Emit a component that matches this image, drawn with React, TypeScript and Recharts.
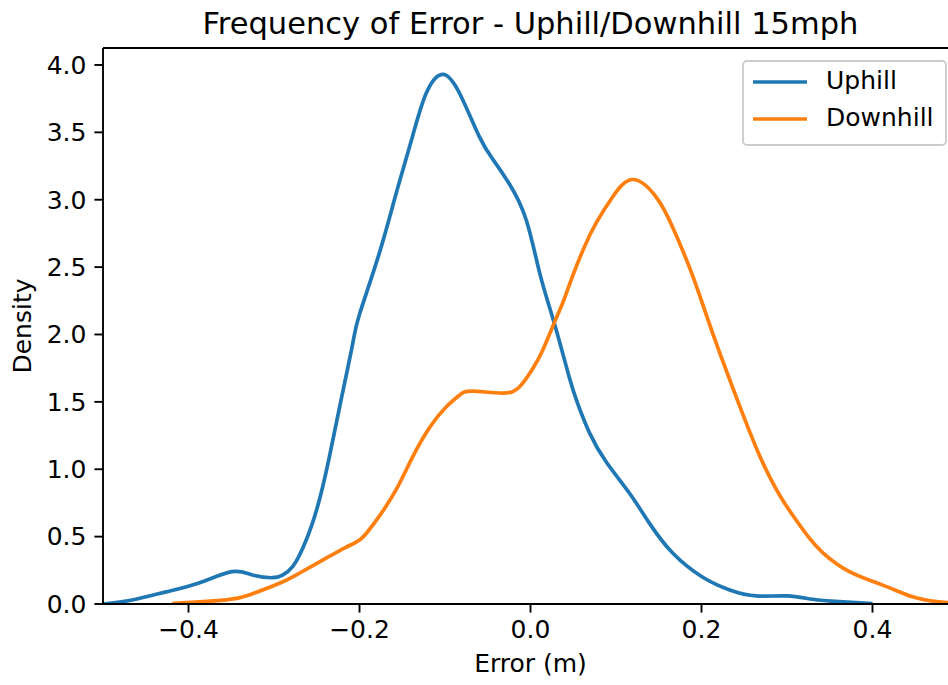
import React from 'react';
import { LineChart, Line, XAxis, YAxis, ReferenceLine } from 'recharts';

const uphillX = [-0.5, -0.466, -0.426, -0.387, -0.349, -0.325, -0.302, -0.29, -0.278, -0.266, -0.255, -0.245, -0.235, -0.222, -0.208, -0.2, -0.177, -0.157, -0.138, -0.122, -0.103, -0.083, -0.06, -0.044, -0.025, -0.005, 0.011, 0.028, 0.045, 0.055, 0.069, 0.089, 0.116, 0.139, 0.166, 0.201, 0.233, 0.264, 0.3, 0.33, 0.361, 0.4];
const uphillY = [0, 0.03, 0.09, 0.158, 0.24, 0.215, 0.195, 0.215, 0.28, 0.42, 0.6, 0.82, 1.1, 1.5, 1.93, 2.15, 2.6, 3.05, 3.47, 3.79, 3.93, 3.79, 3.47, 3.3, 3.12, 2.85, 2.45, 2.08, 1.69, 1.49, 1.27, 1.05, 0.82, 0.6, 0.38, 0.2, 0.104, 0.06, 0.06, 0.035, 0.017, 0.003];

const downhillX = [-0.419, -0.356, -0.329, -0.295, -0.27, -0.239, -0.216, -0.2, -0.19, -0.177, -0.157, -0.138, -0.118, -0.099, -0.083, -0.068, -0.033, -0.013, 0.002, 0.014, 0.028, 0.038, 0.049, 0.063, 0.077, 0.096, 0.12, 0.147, 0.166, 0.19, 0.213, 0.241, 0.255, 0.268, 0.28, 0.295, 0.311, 0.326, 0.342, 0.373, 0.412, 0.447, 0.475, 0.5];
const downhillY = [0.003, 0.03, 0.067, 0.15, 0.23, 0.34, 0.42, 0.475, 0.54, 0.65, 0.85, 1.09, 1.31, 1.46, 1.55, 1.58, 1.565, 1.61, 1.74, 1.88, 2.09, 2.24, 2.43, 2.65, 2.83, 3.02, 3.15, 3.02, 2.8, 2.43, 2.01, 1.53, 1.3, 1.1, 0.94, 0.77, 0.62, 0.49, 0.38, 0.24, 0.14, 0.053, 0.017, 0.005];

const xTicks = [-0.4, -0.2, 0, 0.2, 0.4];
const yTicks = [0, 0.5, 1, 1.5, 2, 2.5, 3, 3.5, 4];
const seriesNames = ['Uphill', 'Downhill'];
const colors = ['#1f77b4', '#ff7f0e'];
const title = 'Frequency of Error - Uphill/Downhill 15mph';
const xLabel = 'Error (m)';
const yLabel = 'Density';

const uphillData = uphillX.map((x, i) => ({ x, y: uphillY[i] }));
const downhillData = downhillX.map((x, i) => ({ x, y: downhillY[i] }));

const FONT = 'DejaVu Sans';
const fmt = (v: number) => v.toFixed(1).replace('-', '\u2212');

export default function App() {
  return (
    <div style={{ position: 'absolute', left: 0, top: 0, width: 948, height: 685, overflow: 'hidden', background: '#fff', fontFamily: FONT }}>
      <LineChart width={962} height={685} margin={{ top: 48, right: 4, bottom: 21, left: 23 }}>
        <XAxis
          type="number"
          dataKey="x"
          domain={[-0.5, 0.5]}
          ticks={xTicks}
          tickFormatter={fmt}
          allowDataOverflow
          height={60}
          stroke="#000"
          strokeWidth={1.9}
          tickSize={8.6}
          tickMargin={8}
          tick={{ fill: '#000', fontSize: 25, fontFamily: FONT }}
          tickLine={{ stroke: '#000', strokeWidth: 1.9 }}
        />
        <YAxis
          type="number"
          dataKey="y"
          domain={[0, 4.126]}
          ticks={yTicks}
          tickFormatter={(v: number) => v.toFixed(1)}
          allowDataOverflow
          width={80}
          stroke="#000"
          strokeWidth={1.9}
          tickSize={8.6}
          tickMargin={8}
          tick={{ fill: '#000', fontSize: 25, fontFamily: FONT }}
          tickLine={{ stroke: '#000', strokeWidth: 1.9 }}
        />
        <ReferenceLine y={4.126} stroke="#000" strokeWidth={1.9} ifOverflow="visible" />
        <Line data={uphillData} dataKey="y" name={seriesNames[0]} type="natural" stroke={colors[0]} strokeWidth={3.7} dot={false} activeDot={false} isAnimationActive={false} />
        <Line data={downhillData} dataKey="y" name={seriesNames[1]} type="natural" stroke={colors[1]} strokeWidth={3.7} dot={false} activeDot={false} isAnimationActive={false} />
      </LineChart>
      <svg width={948} height={685} style={{ position: 'absolute', left: 0, top: 0, pointerEvents: 'none' }}>
        <text x={530.5} y={33.6} textAnchor="middle" fontSize={30.5} fontFamily={FONT} fill="#000">{title}</text>
        <text x={530.5} y={672} textAnchor="middle" fontSize={25} fontFamily={FONT} fill="#000">{xLabel}</text>
        <text transform="translate(31,326) rotate(-90)" x={0} y={0} textAnchor="middle" fontSize={25} fontFamily={FONT} fill="#000">{yLabel}</text>
        <rect x={743} y={61} width={203} height={84} rx={4} ry={4} fill="#fff" fillOpacity={0.8} stroke="#cccccc" strokeWidth={1.9} />
        <line x1={753} y1={82} x2={807} y2={82} stroke={colors[0]} strokeWidth={3.7} />
        <line x1={753} y1={119} x2={807} y2={119} stroke={colors[1]} strokeWidth={3.7} />
        <text x={826} y={89} fontSize={25} fontFamily={FONT} fill="#000">{seriesNames[0]}</text>
        <text x={826} y={126} fontSize={25} fontFamily={FONT} fill="#000">{seriesNames[1]}</text>
      </svg>
    </div>
  );
}
